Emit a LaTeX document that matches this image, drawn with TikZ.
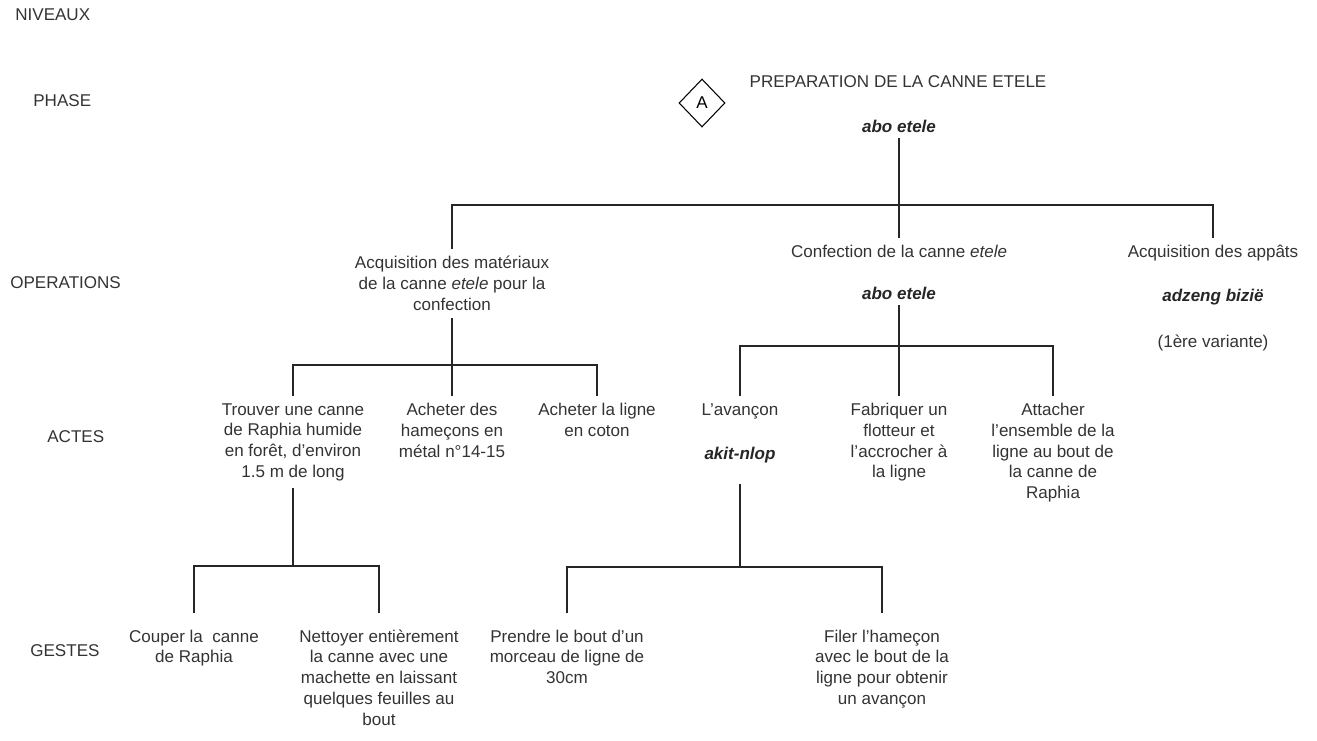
\documentclass[tikz,border=0pt]{standalone}
\usepackage{fontspec}
\setmainfont{Liberation Sans}
\usetikzlibrary{shapes.geometric, positioning}

\begin{document}
\begin{tikzpicture}[
    x=0.02cm, y=-0.02cm,
    font=\fontsize{9.7}{11.8}\selectfont,
    niveau/.style={anchor=west, inner sep=0pt, text=black!80},
    box/.style={align=center, anchor=north, inner sep=4pt, text=black!80},
    geste/.style={box, outer ysep=5.5pt},
    vern/.style={font=\fontsize{9.7}{11.8}\selectfont\bfseries\itshape, text=black!85},
    branch/.style={draw=black!85, line width=0.75pt}
]
\useasboundingbox (0,0) rectangle (1317,740);

% niveaux
\node[niveau] (niv) at (15,15) {NIVEAUX};
\node[niveau] (phase) at (33,101) {PHASE};
\node[niveau] (ops) at (10,283) {OPERATIONS};
\node[niveau] (actes) at (47,437) {ACTES};
\node[niveau] (gestes) at (30,651) {GESTES};

% phase
\node[draw, diamond, minimum width=0.92cm, minimum height=0.96cm, inner sep=0pt, line width=0.6pt] (losange) at (702,103) {A};
\node[text=black!80] (prep) at (898,82) {PREPARATION DE LA CANNE ETELE};
\node[vern] (prepsub) at (899,126) {abo etele};

% operations
\node[box] (acq) at (452,249) {Acquisition des matériaux\\de la canne \textit{etele} pour la\\confection};
\node[box] (conf) at (899,238) {Confection de la canne \textit{etele}};
\node[vern] (confsub) at (899,293) {abo etele};
\node[box] (app) at (1213,238) {Acquisition des appâts};
\node[vern] (appsub) at (1213,297) {adzeng bizië};
\node[text=black!80] (variante) at (1213,343) {(1ère variante)};

% actes
\node[box] (trouver) at (293,396) {Trouver une canne\\de Raphia humide\\en forêt, d'environ\\1.5 m de long};
\node[box] (hamecons) at (452,396) {Acheter des\\hameçons en\\métal n°14-15};
\node[box] (ligne) at (597,396) {Acheter la ligne\\en coton};
\node[box] (avancon) at (740,396) {L'avançon};
\node[vern] (akit) at (740,455) {akit-nlop};
\node[box] (flotteur) at (899,396) {Fabriquer un\\flotteur et\\l'accrocher à\\la ligne};
\node[box] (attacher) at (1053,396) {Attacher\\l'ensemble de la\\ligne au bout de\\la canne de\\Raphia};

% gestes
\node[geste] (couper) at (194,613) {Couper la~ canne\\de Raphia};
\node[geste] (nettoyer) at (379,613) {Nettoyer entièrement\\la canne avec une\\machette en laissant\\quelques feuilles au\\bout};
\node[geste] (prendre) at (567,613) {Prendre le bout d'un\\morceau de ligne de\\30cm};
\node[geste] (filer) at (882,613) {Filer l'hameçon\\avec le bout de la\\ligne pour obtenir\\un avançon};

% barres
\coordinate (b1) at (0,205);
\coordinate (b2) at (0,365);
\coordinate (b3) at (0,346);
\coordinate (b4) at (0,566);
\coordinate (b5) at (0,567);

\draw[branch] (prepsub.south) -- (prepsub.south |- b1);
\draw[branch] (acq.north) |- (app.north |- b1) -- (app.north);
\draw[branch] (conf.north) -- (conf.north |- b1);

\draw[branch] (acq.south) -- (acq.south |- b2);
\draw[branch] (trouver.north) |- (ligne.north |- b2) -- (ligne.north);
\draw[branch] (hamecons.north) -- (hamecons.north |- b2);

\draw[branch] (confsub.south) -- (confsub.south |- b3);
\draw[branch] (avancon.north) |- (attacher.north |- b3) -- (attacher.north);
\draw[branch] (flotteur.north) -- (flotteur.north |- b3);

\draw[branch] (trouver.south) -- (trouver.south |- b4);
\draw[branch] (couper.north) |- (nettoyer.north |- b4) -- (nettoyer.north);

\draw[branch] ([yshift=-0.3cm]akit.south) -- (akit.south |- b5);
\draw[branch] (prendre.north) |- (filer.north |- b5) -- (filer.north);

\end{tikzpicture}
\end{document}
